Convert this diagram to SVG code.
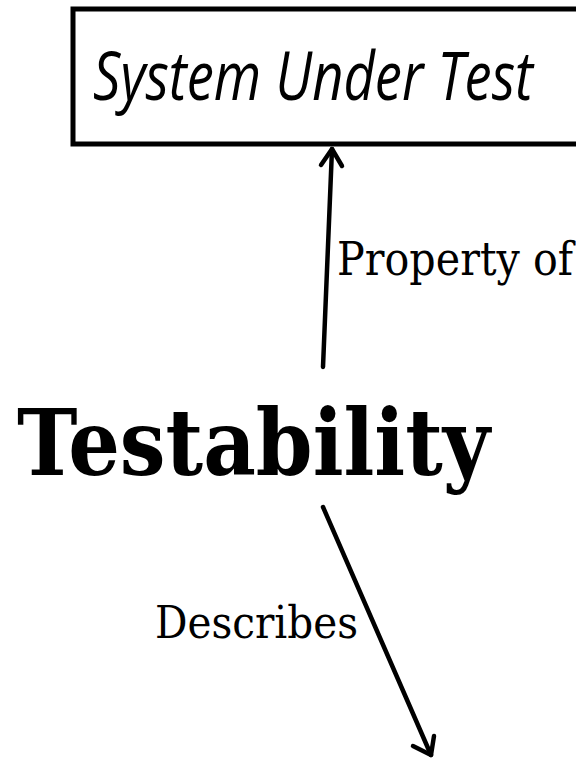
<svg xmlns="http://www.w3.org/2000/svg" width="576" height="761" viewBox="0 0 576 761">
<defs>
<style>
.box{fill:#fff;stroke:#000;stroke-width:5}
.conn{stroke:#000;stroke-width:4.5;fill:none;stroke-linecap:round;stroke-linejoin:round}
.lbl{font-family:Georgia,"DejaVu Serif","Liberation Serif",serif;fill:#000}
</style>
</defs>
<rect width="576" height="761" fill="#fff"/>
<g id="sut">
<rect class="box" x="73" y="9" width="540" height="135"/>
<text x="93" y="100" font-family="'Open Sans','Liberation Sans',sans-serif" font-style="italic" font-size="68" textLength="440" lengthAdjust="spacingAndGlyphs">System Under Test</text>
</g>
<g id="testability">
<text x="17" y="475" font-family="'DejaVu Serif','Liberation Serif',serif" font-weight="bold" font-size="92" textLength="473" lengthAdjust="spacingAndGlyphs">Testability</text>
</g>
<g id="connectors">
<path class="conn" d="M323,367 L332,149"/>
<path class="conn" d="M321,165 L332,149 L342,166"/>
<path class="conn" d="M323,507 L431,755"/>
<path class="conn" d="M413,746 L431,755 L434,736"/>
<text class="lbl" x="337" y="275" font-size="46" textLength="236" lengthAdjust="spacingAndGlyphs">Property of</text>
<text class="lbl" x="155" y="638" font-size="44" textLength="203" lengthAdjust="spacingAndGlyphs">Describes</text>
</g>
</svg>
